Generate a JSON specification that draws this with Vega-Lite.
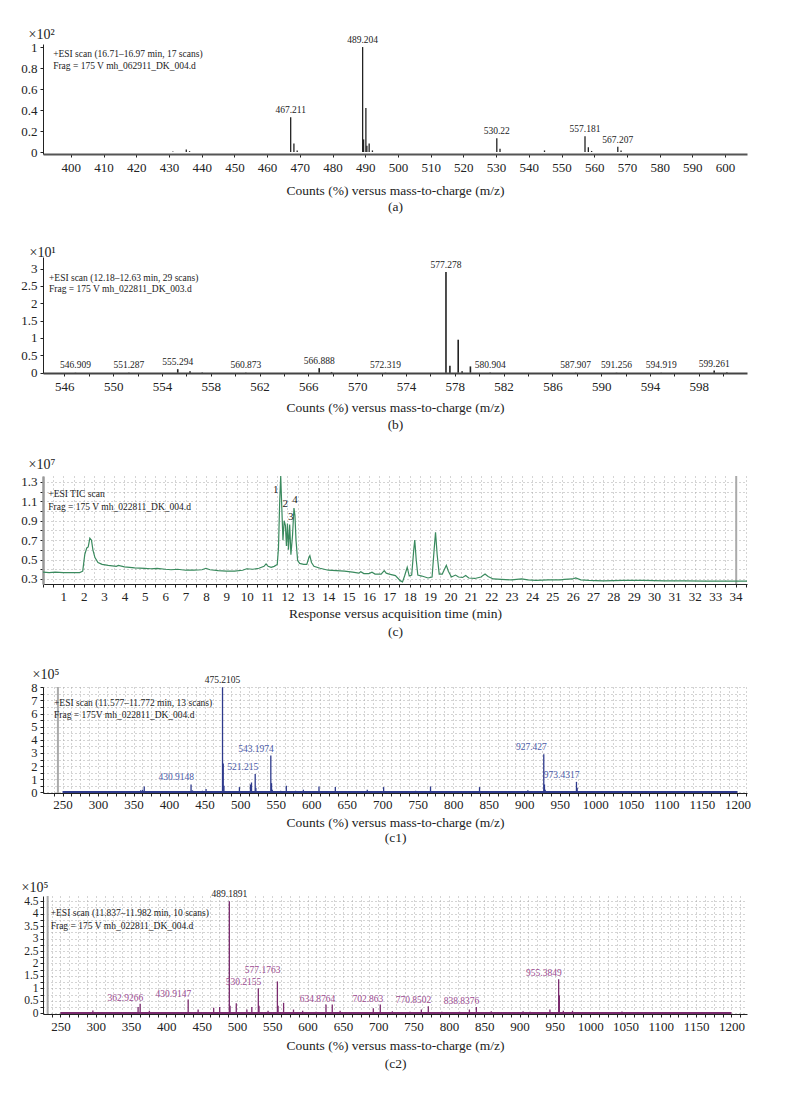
{
  "$schema": "https://vega.github.io/schema/vega-lite/v6.json",
  "background": "white",
  "padding": {"left": 20, "top": 27, "right": 5, "bottom": 5},
  "spacing": 103,
  "bounds": "flush",
  "datasets": {
    "specA": [
      {"mz": 431.2, "intensity": 0.006},
      {"mz": 435.3, "intensity": 0.025},
      {"mz": 436.3, "intensity": 0.008},
      {"mz": 467.211, "intensity": 0.33, "label": "467.211"},
      {"mz": 468.2, "intensity": 0.08},
      {"mz": 469.2, "intensity": 0.015},
      {"mz": 489.204, "intensity": 1.0, "label": "489.204"},
      {"mz": 489.5, "intensity": 0.12},
      {"mz": 490.2, "intensity": 0.42},
      {"mz": 490.5, "intensity": 0.06},
      {"mz": 491.2, "intensity": 0.08},
      {"mz": 492.2, "intensity": 0.015},
      {"mz": 530.22, "intensity": 0.13, "label": "530.22"},
      {"mz": 531.2, "intensity": 0.03},
      {"mz": 544.8, "intensity": 0.015},
      {"mz": 557.181, "intensity": 0.15, "label": "557.181"},
      {"mz": 558.2, "intensity": 0.045},
      {"mz": 559.2, "intensity": 0.01},
      {"mz": 567.207, "intensity": 0.05, "label": "567.207"},
      {"mz": 568.2, "intensity": 0.015}
    ],
    "specB": [
      {"mz": 546.909, "intensity": 0.005, "label": "546.909"},
      {"mz": 551.287, "intensity": 0.005, "label": "551.287"},
      {"mz": 555.294, "intensity": 0.1, "label": "555.294"},
      {"mz": 556.3, "intensity": 0.04},
      {"mz": 557.3, "intensity": 0.01},
      {"mz": 560.873, "intensity": 0.005, "label": "560.873"},
      {"mz": 566.888, "intensity": 0.13, "label": "566.888"},
      {"mz": 567.9, "intensity": 0.02},
      {"mz": 572.319, "intensity": 0.005, "label": "572.319"},
      {"mz": 577.278, "intensity": 2.9, "label": "577.278"},
      {"mz": 577.6, "intensity": 0.2},
      {"mz": 578.28, "intensity": 0.95},
      {"mz": 578.6, "intensity": 0.04},
      {"mz": 579.28, "intensity": 0.18},
      {"mz": 580.904, "intensity": 0.01, "label": "580.904"},
      {"mz": 587.907, "intensity": 0.005, "label": "587.907"},
      {"mz": 591.256, "intensity": 0.005, "label": "591.256"},
      {"mz": 594.919, "intensity": 0.005, "label": "594.919"},
      {"mz": 599.261, "intensity": 0.06, "label": "599.261"},
      {"mz": 600.3, "intensity": 0.015}
    ],
    "tic": [
      {"t": 0.0, "v": 0.37}, {"t": 0.3, "v": 0.365}, {"t": 0.6, "v": 0.37}, {"t": 1.0, "v": 0.365},
      {"t": 1.4, "v": 0.365}, {"t": 1.8, "v": 0.365}, {"t": 1.95, "v": 0.38}, {"t": 2.05, "v": 0.55},
      {"t": 2.15, "v": 0.62}, {"t": 2.22, "v": 0.63}, {"t": 2.3, "v": 0.72}, {"t": 2.38, "v": 0.70},
      {"t": 2.45, "v": 0.60}, {"t": 2.55, "v": 0.52}, {"t": 2.7, "v": 0.47}, {"t": 2.9, "v": 0.45},
      {"t": 3.2, "v": 0.44}, {"t": 3.6, "v": 0.43}, {"t": 3.7, "v": 0.44}, {"t": 4.0, "v": 0.425},
      {"t": 4.5, "v": 0.415}, {"t": 5.0, "v": 0.41}, {"t": 5.3, "v": 0.405}, {"t": 5.6, "v": 0.41},
      {"t": 6.0, "v": 0.40}, {"t": 6.3, "v": 0.395}, {"t": 6.6, "v": 0.40}, {"t": 7.0, "v": 0.39},
      {"t": 7.4, "v": 0.39}, {"t": 7.8, "v": 0.395}, {"t": 8.0, "v": 0.41}, {"t": 8.2, "v": 0.395},
      {"t": 8.6, "v": 0.385}, {"t": 9.0, "v": 0.38}, {"t": 9.4, "v": 0.38}, {"t": 9.8, "v": 0.39},
      {"t": 10.0, "v": 0.405}, {"t": 10.3, "v": 0.40}, {"t": 10.6, "v": 0.41}, {"t": 10.85, "v": 0.43},
      {"t": 10.95, "v": 0.455}, {"t": 11.05, "v": 0.43}, {"t": 11.2, "v": 0.42}, {"t": 11.35, "v": 0.43},
      {"t": 11.5, "v": 0.45}, {"t": 11.56, "v": 0.62}, {"t": 11.62, "v": 1.1}, {"t": 11.67, "v": 1.36},
      {"t": 11.72, "v": 1.05}, {"t": 11.78, "v": 0.70}, {"t": 11.84, "v": 0.90}, {"t": 11.9, "v": 0.85},
      {"t": 11.95, "v": 0.64}, {"t": 12.0, "v": 0.87}, {"t": 12.05, "v": 0.60}, {"t": 12.11, "v": 0.86},
      {"t": 12.17, "v": 0.55}, {"t": 12.25, "v": 0.75}, {"t": 12.32, "v": 1.03}, {"t": 12.37, "v": 0.95},
      {"t": 12.42, "v": 0.70}, {"t": 12.5, "v": 0.49}, {"t": 12.6, "v": 0.46}, {"t": 12.8, "v": 0.45},
      {"t": 12.95, "v": 0.45}, {"t": 13.05, "v": 0.52}, {"t": 13.1, "v": 0.54}, {"t": 13.18, "v": 0.47},
      {"t": 13.3, "v": 0.43}, {"t": 13.6, "v": 0.41}, {"t": 14.0, "v": 0.39}, {"t": 14.4, "v": 0.385},
      {"t": 14.8, "v": 0.38}, {"t": 15.2, "v": 0.37}, {"t": 15.5, "v": 0.36}, {"t": 15.6, "v": 0.375},
      {"t": 15.75, "v": 0.355}, {"t": 16.0, "v": 0.355}, {"t": 16.15, "v": 0.37}, {"t": 16.3, "v": 0.35},
      {"t": 16.6, "v": 0.35}, {"t": 16.75, "v": 0.385}, {"t": 16.85, "v": 0.36}, {"t": 17.0, "v": 0.35},
      {"t": 17.3, "v": 0.335}, {"t": 17.55, "v": 0.28}, {"t": 17.65, "v": 0.27}, {"t": 17.75, "v": 0.33},
      {"t": 17.88, "v": 0.42}, {"t": 17.98, "v": 0.33}, {"t": 18.1, "v": 0.34}, {"t": 18.2, "v": 0.60},
      {"t": 18.25, "v": 0.70}, {"t": 18.32, "v": 0.50}, {"t": 18.4, "v": 0.34}, {"t": 18.6, "v": 0.33},
      {"t": 18.9, "v": 0.31}, {"t": 19.1, "v": 0.32}, {"t": 19.2, "v": 0.60}, {"t": 19.27, "v": 0.78},
      {"t": 19.35, "v": 0.55}, {"t": 19.45, "v": 0.35}, {"t": 19.6, "v": 0.35}, {"t": 19.8, "v": 0.44},
      {"t": 19.9, "v": 0.38}, {"t": 20.05, "v": 0.32}, {"t": 20.25, "v": 0.34}, {"t": 20.4, "v": 0.32},
      {"t": 20.6, "v": 0.315}, {"t": 20.75, "v": 0.335}, {"t": 20.9, "v": 0.31}, {"t": 21.2, "v": 0.305},
      {"t": 21.5, "v": 0.32}, {"t": 21.7, "v": 0.35}, {"t": 21.85, "v": 0.325}, {"t": 22.1, "v": 0.30},
      {"t": 22.5, "v": 0.295}, {"t": 23.0, "v": 0.29}, {"t": 23.5, "v": 0.30}, {"t": 23.8, "v": 0.29},
      {"t": 24.2, "v": 0.285}, {"t": 24.8, "v": 0.29}, {"t": 25.4, "v": 0.29}, {"t": 25.6, "v": 0.295},
      {"t": 26.0, "v": 0.30}, {"t": 26.15, "v": 0.31}, {"t": 26.4, "v": 0.29}, {"t": 26.8, "v": 0.285},
      {"t": 27.5, "v": 0.28}, {"t": 28.5, "v": 0.285}, {"t": 29.5, "v": 0.285}, {"t": 30.5, "v": 0.28},
      {"t": 31.5, "v": 0.28}, {"t": 32.5, "v": 0.278}, {"t": 33.5, "v": 0.278}, {"t": 34.56, "v": 0.278}
    ],
    "ticPeaks": [
      {"peak": "1", "t": 11.67, "v": 1.36},
      {"peak": "2", "t": 11.84, "v": 0.90},
      {"peak": "3", "t": 12.11, "v": 0.86},
      {"peak": "4", "t": 12.32, "v": 1.03}
    ],
    "specC1": [
      {"mz": 296, "intensity": 0.06}, {"mz": 360, "intensity": 0.15}, {"mz": 362.6, "intensity": 0.2},
      {"mz": 365, "intensity": 0.45}, {"mz": 376, "intensity": 0.06}, {"mz": 420, "intensity": 0.08},
      {"mz": 430.9148, "intensity": 0.6, "label": "430.9148"}, {"mz": 432.9, "intensity": 0.15},
      {"mz": 447, "intensity": 0.12}, {"mz": 452, "intensity": 0.25}, {"mz": 455, "intensity": 0.1},
      {"mz": 475.2105, "intensity": 8.0, "label": "475.2105"}, {"mz": 476.2, "intensity": 2.2},
      {"mz": 477.2, "intensity": 0.5}, {"mz": 485, "intensity": 0.08}, {"mz": 499, "intensity": 0.4},
      {"mz": 507, "intensity": 0.1}, {"mz": 514.5, "intensity": 0.6}, {"mz": 516, "intensity": 0.75},
      {"mz": 521.215, "intensity": 1.4, "label": "521.215"}, {"mz": 522.2, "intensity": 0.35},
      {"mz": 530, "intensity": 0.1}, {"mz": 543.1974, "intensity": 2.8, "label": "543.1974"},
      {"mz": 544.2, "intensity": 0.7}, {"mz": 545.2, "intensity": 0.2}, {"mz": 557, "intensity": 0.12},
      {"mz": 565, "intensity": 0.5}, {"mz": 578, "intensity": 0.12}, {"mz": 589, "intensity": 0.2},
      {"mz": 600, "intensity": 0.1}, {"mz": 611, "intensity": 0.45}, {"mz": 622, "intensity": 0.1},
      {"mz": 634, "intensity": 0.4}, {"mz": 656, "intensity": 0.1}, {"mz": 679, "intensity": 0.2},
      {"mz": 702, "intensity": 0.4}, {"mz": 725, "intensity": 0.1}, {"mz": 747, "intensity": 0.12},
      {"mz": 768, "intensity": 0.45}, {"mz": 790, "intensity": 0.1}, {"mz": 815, "intensity": 0.1},
      {"mz": 837, "intensity": 0.4}, {"mz": 860, "intensity": 0.08}, {"mz": 882, "intensity": 0.1},
      {"mz": 905, "intensity": 0.15}, {"mz": 927.427, "intensity": 2.9, "label": "927.427"},
      {"mz": 928.4, "intensity": 0.6}, {"mz": 929.4, "intensity": 0.2}, {"mz": 950, "intensity": 0.08},
      {"mz": 973.4317, "intensity": 0.8, "label": "973.4317"}, {"mz": 974.4, "intensity": 0.35},
      {"mz": 995, "intensity": 0.06}, {"mz": 1040, "intensity": 0.08}, {"mz": 1070, "intensity": 0.05},
      {"mz": 1100, "intensity": 0.05}, {"mz": 1150, "intensity": 0.04}
    ],
    "specC2": [
      {"mz": 255, "intensity": 0.05}, {"mz": 296, "intensity": 0.11}, {"mz": 320, "intensity": 0.04},
      {"mz": 345, "intensity": 0.05}, {"mz": 360, "intensity": 0.25},
      {"mz": 362.9266, "intensity": 0.38, "label": "362.9266"}, {"mz": 376, "intensity": 0.1},
      {"mz": 400, "intensity": 0.05}, {"mz": 430.9147, "intensity": 0.55, "label": "430.9147"},
      {"mz": 445, "intensity": 0.15}, {"mz": 467, "intensity": 0.22}, {"mz": 475.5, "intensity": 0.25},
      {"mz": 489.1891, "intensity": 4.5, "label": "489.1891"}, {"mz": 490.2, "intensity": 0.3},
      {"mz": 499, "intensity": 0.4}, {"mz": 514, "intensity": 0.15}, {"mz": 521, "intensity": 0.25},
      {"mz": 530.2155, "intensity": 1.0, "label": "530.2155"}, {"mz": 531.2, "intensity": 0.3},
      {"mz": 544, "intensity": 0.1}, {"mz": 557.2, "intensity": 1.28, "label": "577.1763"},
      {"mz": 558.2, "intensity": 0.3}, {"mz": 566, "intensity": 0.42}, {"mz": 580, "intensity": 0.15},
      {"mz": 593, "intensity": 0.1}, {"mz": 612, "intensity": 0.06}, {"mz": 626, "intensity": 0.35},
      {"mz": 634.8764, "intensity": 0.35, "label": "634.8764"}, {"mz": 646, "intensity": 0.1},
      {"mz": 660, "intensity": 0.05}, {"mz": 693, "intensity": 0.2},
      {"mz": 702.863, "intensity": 0.35, "label": "702.863"}, {"mz": 720, "intensity": 0.08},
      {"mz": 745, "intensity": 0.06}, {"mz": 761, "intensity": 0.15},
      {"mz": 770.8502, "intensity": 0.28, "label": "770.8502"}, {"mz": 790, "intensity": 0.06},
      {"mz": 815, "intensity": 0.06}, {"mz": 829, "intensity": 0.15},
      {"mz": 838.8376, "intensity": 0.25, "label": "838.8376"}, {"mz": 860, "intensity": 0.08},
      {"mz": 885, "intensity": 0.05}, {"mz": 905, "intensity": 0.08}, {"mz": 915, "intensity": 0.06},
      {"mz": 943, "intensity": 0.15}, {"mz": 955.3849, "intensity": 1.37, "label": "955.3849"},
      {"mz": 956.4, "intensity": 0.72}, {"mz": 962, "intensity": 0.1}, {"mz": 975, "intensity": 0.1},
      {"mz": 1000, "intensity": 0.05}, {"mz": 1045, "intensity": 0.07}, {"mz": 1100, "intensity": 0.05},
      {"mz": 1150, "intensity": 0.04}
    ]
  },
  "vconcat": [
    {
      "width": 704, "height": 110,
      "data": {"name": "specA"},
      "layer": [
        {
          "mark": {"type": "rule", "color": "#222", "strokeWidth": 1.3},
          "encoding": {
            "x": {"field": "mz", "type": "quantitative",
              "scale": {"domain": [391.5, 606.7], "nice": false, "zero": false},
              "axis": {"values": [400,410,420,430,440,450,460,470,480,490,500,510,520,530,540,550,560,570,580,590,600],
                "tickCount": 500, "labelOverlap": false,
                "labelExpr": "'' + datum.value", "labelPadding": 4, "domainWidth": 2, "domainColor": "#555",
                "title": ["Counts (%) versus mass-to-charge (m/z)", "", "(a)"], "titleLineHeight": 16.5, "titlePadding": 9}},
            "y": {"field": "intensity", "type": "quantitative",
              "scale": {"domain": [-0.019, 1.029], "nice": false, "zero": false},
              "axis": {"values": [0, 0.2, 0.4, 0.6, 0.8, 1], "tickCount": 500, "labelOverlap": false,
                "labelExpr": "'' + datum.value",
                "title": "×10²", "titleAngle": 0, "titleAlign": "left", "titleBaseline": "alphabetic",
                "titleX": -15, "titleY": -6, "titleFontSize": 14}},
            "y2": {"datum": 0}
          }
        },
        {
          "transform": [{"filter": "datum.label != null"}],
          "mark": {"type": "text", "baseline": "bottom", "dy": -2, "fontSize": 9.5, "font": "Liberation Serif", "color": "#222"},
          "encoding": {
            "x": {"field": "mz", "type": "quantitative"},
            "y": {"field": "intensity", "type": "quantitative"},
            "text": {"field": "label"}
          }
        },
        {
          "data": {"values": [{}]},
          "mark": {"type": "text", "align": "left", "baseline": "top", "fontSize": 9.5, "lineHeight": 12,
            "font": "Liberation Serif", "color": "#222",
            "text": ["+ESI scan (16.71–16.97 min, 17 scans)", "Frag = 175 V mh_062911_DK_004.d"]},
          "encoding": {"x": {"datum": 394.6, "type": "quantitative"}, "y": {"datum": 0.98, "type": "quantitative"}}
        }
      ]
    },
    {
      "width": 704, "height": 116,
      "data": {"name": "specB"},
      "layer": [
        {
          "mark": {"type": "rule", "color": "#222", "strokeWidth": 1.6},
          "encoding": {
            "x": {"field": "mz", "type": "quantitative",
              "scale": {"domain": [544.25, 601.95], "nice": false, "zero": false},
              "axis": {"values": [546,548,550,552,554,556,558,560,562,564,566,568,570,572,574,576,578,580,582,584,586,588,590,592,594,596,598,600],
                "tickCount": 500, "labelOverlap": false,
                "labelExpr": "(datum.value - 546) % 4 === 0 ? '' + datum.value : ''", "labelPadding": 4,
                "domainWidth": 2, "domainColor": "#444",
                "title": ["Counts (%) versus mass-to-charge (m/z)", "", "(b)"], "titleLineHeight": 17.5, "titlePadding": 7}},
            "y": {"field": "intensity", "type": "quantitative",
              "scale": {"domain": [-0.01, 3.336], "nice": false, "zero": false},
              "axis": {"values": [0, 0.5, 1, 1.5, 2, 2.5, 3], "tickCount": 500, "labelOverlap": false,
                "labelExpr": "'' + datum.value",
                "title": "×10¹", "titleAngle": 0, "titleAlign": "left", "titleBaseline": "alphabetic",
                "titleX": -14, "titleY": -1, "titleFontSize": 14}},
            "y2": {"datum": 0}
          }
        },
        {
          "transform": [{"filter": "datum.label != null"}],
          "mark": {"type": "text", "baseline": "bottom", "dy": -2, "fontSize": 9.5, "font": "Liberation Serif", "color": "#222"},
          "encoding": {
            "x": {"field": "mz", "type": "quantitative"},
            "y": {"field": "intensity", "type": "quantitative"},
            "text": {"field": "label"}
          }
        },
        {
          "data": {"values": [{}]},
          "mark": {"type": "text", "align": "left", "baseline": "top", "fontSize": 9.5, "lineHeight": 11.5,
            "font": "Liberation Serif", "color": "#222",
            "text": ["+ESI scan (12.18–12.63 min, 29 scans)", "Frag = 175 V mh_022811_DK_003.d"]},
          "encoding": {"x": {"datum": 544.74, "type": "quantitative"}, "y": {"datum": 2.876, "type": "quantitative"}}
        }
      ]
    },
    {
      "width": 704, "height": 108,
      "layer": [
        {
          "data": {"values": [{"t": 34.03}]},
          "mark": {"type": "rule", "color": "#aaa", "strokeWidth": 2},
          "encoding": {"x": {"field": "t", "type": "quantitative"}}
        },
        {
          "data": {"name": "tic"},
          "mark": {"type": "line", "color": "#3a8a5e", "strokeWidth": 1.2},
          "encoding": {
            "x": {"field": "t", "type": "quantitative",
              "scale": {"domain": [0, 34.56], "nice": false, "zero": false},
              "axis": {"values": [0,0.5,1,1.5,2,2.5,3,3.5,4,4.5,5,5.5,6,6.5,7,7.5,8,8.5,9,9.5,10,10.5,11,11.5,12,12.5,13,13.5,14,14.5,15,15.5,16,16.5,17,17.5,18,18.5,19,19.5,20,20.5,21,21.5,22,22.5,23,23.5,24,24.5,25,25.5,26,26.5,27,27.5,28,28.5,29,29.5,30,30.5,31,31.5,32,32.5,33,33.5,34,34.5],
                "tickCount": 500, "labelOverlap": false,
                "labelExpr": "datum.value >= 1 && datum.value % 1 === 0 ? '' + datum.value : ''", "labelPadding": 3,
                "grid": true, "gridDash": [1, 3], "gridColor": "#a8a8a8",
                "title": ["Response versus acquisition time (min)", "", "(c)"], "titleLineHeight": 18.5, "titlePadding": 3}},
            "y": {"field": "v", "type": "quantitative",
              "scale": {"domain": [0.248, 1.361], "nice": false, "zero": false},
              "axis": {"values": [0.3, 0.4, 0.5, 0.6, 0.7, 0.8, 0.9, 1, 1.1, 1.2, 1.3],
                "tickCount": 500, "labelOverlap": false,
                "labelExpr": "indexof(['0.3','0.5','0.7','0.9','1.1','1.3'], '' + datum.value) >= 0 ? '' + datum.value : ''",
                "grid": true, "gridDash": [1, 3], "gridColor": "#a8a8a8", "domainColor": "#999", "domainWidth": 2.5,
                "title": "×10⁷", "titleAngle": 0, "titleAlign": "left", "titleBaseline": "alphabetic",
                "titleX": -15, "titleY": -8, "titleFontSize": 14}}
          }
        },
        {
          "data": {"name": "ticPeaks"},
          "transform": [{"filter": "datum.peak == '1'"}],
          "mark": {"type": "text", "dx": -5, "dy": 14, "baseline": "middle", "fontSize": 11, "font": "Liberation Serif", "color": "#222"},
          "encoding": {"x": {"field": "t", "type": "quantitative"}, "y": {"field": "v", "type": "quantitative"}, "text": {"field": "peak"}}
        },
        {
          "data": {"name": "ticPeaks"},
          "transform": [{"filter": "datum.peak == '2'"}],
          "mark": {"type": "text", "dx": 1, "dy": -17, "baseline": "middle", "fontSize": 11, "font": "Liberation Serif", "color": "#222"},
          "encoding": {"x": {"field": "t", "type": "quantitative"}, "y": {"field": "v", "type": "quantitative"}, "text": {"field": "peak"}}
        },
        {
          "data": {"name": "ticPeaks"},
          "transform": [{"filter": "datum.peak == '3' || datum.peak == '4'"}],
          "mark": {"type": "text", "dx": 1, "dy": -8, "baseline": "middle", "fontSize": 11, "font": "Liberation Serif", "color": "#222"},
          "encoding": {"x": {"field": "t", "type": "quantitative"}, "y": {"field": "v", "type": "quantitative"}, "text": {"field": "peak"}}
        },
        {
          "data": {"values": [{}]},
          "mark": {"type": "text", "align": "left", "baseline": "top", "fontSize": 9.5, "lineHeight": 13,
            "font": "Liberation Serif", "color": "#222",
            "text": ["+ESI TIC scan", "Frag = 175 V mh_022811_DK_004.d"]},
          "encoding": {"x": {"datum": 0.26, "type": "quantitative"}, "y": {"datum": 1.228, "type": "quantitative"}}
        }
      ]
    },
    {
      "width": 704, "height": 106,
      "data": {"name": "specC1"},
      "layer": [
        {
          "data": {"values": [{"mz": 243.5}]},
          "mark": {"type": "rule", "color": "#aaa", "strokeWidth": 2},
          "encoding": {"x": {"field": "mz", "type": "quantitative"}}
        },
        {
          "data": {"values": [{}]},
          "mark": {"type": "rule", "color": "#2e3a8c", "strokeWidth": 2},
          "encoding": {"x": {"datum": 250, "type": "quantitative"}, "x2": {"datum": 1200}, "y": {"datum": 0.02, "type": "quantitative"}}
        },
        {
          "mark": {"type": "rule", "color": "#2e3a8c", "strokeWidth": 1.3},
          "encoding": {
            "x": {"field": "mz", "type": "quantitative",
              "scale": {"domain": [222.5, 1213.5], "nice": false, "zero": false},
              "axis": {"values": [237.5,250,262.5,275,287.5,300,312.5,325,337.5,350,362.5,375,387.5,400,412.5,425,437.5,450,462.5,475,487.5,500,512.5,525,537.5,550,562.5,575,587.5,600,612.5,625,637.5,650,662.5,675,687.5,700,712.5,725,737.5,750,762.5,775,787.5,800,812.5,825,837.5,850,862.5,875,887.5,900,912.5,925,937.5,950,962.5,975,987.5,1000,1012.5,1025,1037.5,1050,1062.5,1075,1087.5,1100,1112.5,1125,1137.5,1150,1162.5,1175,1187.5,1200,1212.5],
                "tickCount": 500, "labelOverlap": false,
                "labelExpr": "datum.value % 50 === 0 ? '' + datum.value : ''", "labelPadding": 2,
                "grid": true, "gridDash": [1, 3], "gridColor": "#a8a8a8",
                "title": ["Counts (%) versus mass-to-charge (m/z)", "", "(c1)"], "titleLineHeight": 15.5, "titlePadding": 4}},
            "y": {"field": "intensity", "type": "quantitative",
              "scale": {"domain": [-0.05, 8.023], "nice": false, "zero": false},
              "axis": {"values": [0,0.5,1,1.5,2,2.5,3,3.5,4,4.5,5,5.5,6,6.5,7,7.5,8],
                "tickCount": 500, "labelOverlap": false, "labelFontSize": 12.5,
                "labelExpr": "datum.value % 1 === 0 ? '' + datum.value : ''",
                "grid": true, "gridDash": [1, 3], "gridColor": "#a8a8a8",
                "title": "×10⁵", "titleAngle": 0, "titleAlign": "left", "titleBaseline": "alphabetic",
                "titleX": -11, "titleY": -9, "titleFontSize": 14}},
            "y2": {"datum": 0}
          }
        },
        {
          "transform": [{"filter": "datum.label == '475.2105'"}],
          "mark": {"type": "text", "baseline": "bottom", "dy": -2, "fontSize": 9.5, "font": "Liberation Serif", "color": "#222"},
          "encoding": {"x": {"field": "mz", "type": "quantitative"}, "y": {"field": "intensity", "type": "quantitative"}, "text": {"field": "label"}}
        },
        {
          "transform": [{"filter": "datum.label != null && datum.label != '475.2105'"}],
          "mark": {"type": "text", "align": "right", "baseline": "bottom", "dx": 3, "dy": -2, "fontSize": 9.5, "font": "Liberation Serif", "color": "#4a5aa8"},
          "encoding": {"x": {"field": "mz", "type": "quantitative"}, "y": {"field": "intensity", "type": "quantitative"}, "text": {"field": "label"}}
        },
        {
          "data": {"values": [{}]},
          "mark": {"type": "text", "align": "left", "baseline": "top", "fontSize": 9.5, "lineHeight": 11.6,
            "font": "Liberation Serif", "color": "#222",
            "text": ["+ESI scan (11.577–11.772 min, 13 scans)", "Frag = 175V mh_022811_DK_004.d"]},
          "encoding": {"x": {"datum": 238, "type": "quantitative"}, "y": {"datum": 7.185, "type": "quantitative"}}
        }
      ]
    },
    {
      "width": 704, "height": 118,
      "data": {"name": "specC2"},
      "layer": [
        {
          "data": {"values": [{"mz": 232}]},
          "mark": {"type": "rule", "color": "#aaa", "strokeWidth": 2},
          "encoding": {"x": {"field": "mz", "type": "quantitative"}}
        },
        {
          "data": {"values": [{}]},
          "mark": {"type": "rule", "color": "#7a2a6e", "strokeWidth": 2},
          "encoding": {"x": {"datum": 250, "type": "quantitative"}, "x2": {"datum": 1200}, "y": {"datum": 0.01, "type": "quantitative"}}
        },
        {
          "mark": {"type": "rule", "color": "#7a2a6e", "strokeWidth": 1.3},
          "encoding": {
            "x": {"field": "mz", "type": "quantitative",
              "scale": {"domain": [225.4, 1222], "nice": false, "zero": false},
              "axis": {"values": [237.5,250,262.5,275,287.5,300,312.5,325,337.5,350,362.5,375,387.5,400,412.5,425,437.5,450,462.5,475,487.5,500,512.5,525,537.5,550,562.5,575,587.5,600,612.5,625,637.5,650,662.5,675,687.5,700,712.5,725,737.5,750,762.5,775,787.5,800,812.5,825,837.5,850,862.5,875,887.5,900,912.5,925,937.5,950,962.5,975,987.5,1000,1012.5,1025,1037.5,1050,1062.5,1075,1087.5,1100,1112.5,1125,1137.5,1150,1162.5,1175,1187.5,1200,1212.5],
                "tickCount": 500, "labelOverlap": false,
                "labelExpr": "datum.value % 50 === 0 ? '' + datum.value : ''", "labelPadding": 3,
                "grid": true, "gridDash": [1, 3], "gridColor": "#a8a8a8",
                "title": ["Counts (%) versus mass-to-charge (m/z)", "", "(c2)"], "titleLineHeight": 18.5, "titlePadding": 5}},
            "y": {"field": "intensity", "type": "quantitative",
              "scale": {"domain": [-0.03, 4.71], "nice": false, "zero": false},
              "axis": {"values": [0,0.25,0.5,0.75,1,1.25,1.5,1.75,2,2.25,2.5,2.75,3,3.25,3.5,3.75,4,4.25,4.5],
                "tickCount": 500, "labelOverlap": false, "labelFontSize": 11.5, "labelPadding": 2,
                "labelExpr": "(datum.value * 2) % 1 === 0 ? '' + datum.value : ''",
                "grid": true, "gridDash": [1, 3], "gridColor": "#a8a8a8",
                "title": "×10⁵", "titleAngle": 0, "titleAlign": "left", "titleBaseline": "alphabetic",
                "titleX": -22, "titleY": -5, "titleFontSize": 14}},
            "y2": {"datum": 0}
          }
        },
        {
          "transform": [{"filter": "datum.label == '489.1891'"}],
          "mark": {"type": "text", "baseline": "bottom", "dy": -2, "fontSize": 9.5, "font": "Liberation Serif", "color": "#222"},
          "encoding": {"x": {"field": "mz", "type": "quantitative"}, "y": {"field": "intensity", "type": "quantitative"}, "text": {"field": "label"}}
        },
        {
          "transform": [{"filter": "datum.label == '577.1763'"}],
          "mark": {"type": "text", "align": "right", "baseline": "bottom", "dx": 3, "dy": -6, "fontSize": 9.5, "font": "Liberation Serif", "color": "#9b4a90"},
          "encoding": {"x": {"field": "mz", "type": "quantitative"}, "y": {"field": "intensity", "type": "quantitative"}, "text": {"field": "label"}}
        },
        {
          "transform": [{"filter": "datum.label != null && datum.label != '489.1891' && datum.label != '577.1763'"}],
          "mark": {"type": "text", "align": "right", "baseline": "bottom", "dx": 3, "dy": -1, "fontSize": 9.5, "font": "Liberation Serif", "color": "#9b4a90"},
          "encoding": {"x": {"field": "mz", "type": "quantitative"}, "y": {"field": "intensity", "type": "quantitative"}, "text": {"field": "label"}}
        },
        {
          "data": {"values": [{}]},
          "mark": {"type": "text", "align": "left", "baseline": "top", "fontSize": 9.5, "lineHeight": 12.4,
            "font": "Liberation Serif", "color": "#222",
            "text": ["+ESI scan (11.837–11.982 min, 10 scans)", "Frag = 175 V mh_022811_DK_004.d"]},
          "encoding": {"x": {"datum": 236.3, "type": "quantitative"}, "y": {"datum": 4.215, "type": "quantitative"}}
        }
      ]
    }
  ],
  "config": {
    "font": "Liberation Serif",
    "view": {"stroke": null},
    "axis": {
      "labelFont": "Liberation Serif", "labelFontSize": 13, "labelColor": "#222",
      "titleFont": "Liberation Serif", "titleFontSize": 13.5, "titleFontWeight": "normal", "titleColor": "#222",
      "domainColor": "#222", "tickColor": "#222", "tickSize": 3, "labelPadding": 3,
      "labelOverlap": false, "labelFlush": false, "grid": false
    }
  }
}
